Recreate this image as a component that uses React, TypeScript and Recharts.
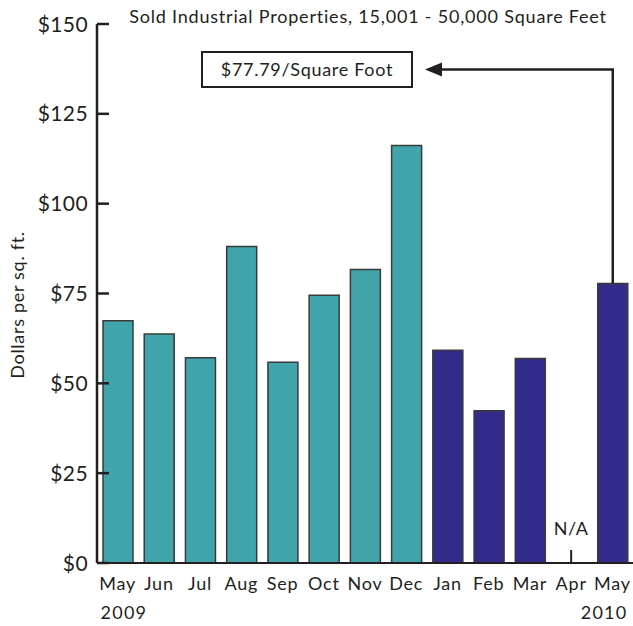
import React from "react";
import {
  BarChart,
  Bar,
  XAxis,
  YAxis,
  Cell,
  LabelList,
  Customized,
} from "recharts";

const months = ["May", "Jun", "Jul", "Aug", "Sep", "Oct", "Nov", "Dec", "Jan", "Feb", "Mar", "Apr", "May"];
const years = ["2009", "", "", "", "", "", "", "", "", "", "", "", "2010"];
const pricePerSqFt = [67.4, 63.7, 57.1, 88.1, 55.9, 74.5, 81.7, 116.2, 59.2, 42.4, 56.9, null, 77.79];
const notes = ["", "", "", "", "", "", "", "", "", "", "", "", "$77.79/Square Foot"];
const yTicks = [0, 25, 50, 75, 100, 125, 150];

const title = "Sold Industrial Properties, 15,001 - 50,000 Square Feet";
const yLabel = "Dollars per sq. ft.";
const naLabel = "N/A";

const FONT = "Lato, 'Open Sans', sans-serif";
const INK = "#231f20";
const TEAL = "#40a4aa";
const NAVY = "#332b8a";

const data = months.map((m, i) => ({
  month: m,
  year: years[i],
  value: pricePerSqFt[i],
  note: notes[i],
}));

const YTick = (props: any) => {
  const { x, y, payload } = props;
  return (
    <g>
      <line x1={x + 9} x2={x + 21} y1={y} y2={y} stroke={INK} strokeWidth={2.5} />
      <text x={x} y={y} dy="0.36em" textAnchor="end" fontSize={21} letterSpacing={0.4} fill={INK} fontFamily={FONT}>
        {"$" + payload.value}
      </text>
    </g>
  );
};

const XTick = (props: any) => {
  const { x, y, payload } = props;
  const idx = payload.index;
  const row = data[idx];
  // first year label sits left-aligned under its bar, last one right-aligned
  const first = idx === 0;
  return (
    <g>
      <text x={x} y={y + 21} dy="0.36em" textAnchor="middle" fontSize={18} letterSpacing={0.8} fill={INK} fontFamily={FONT}>
        {payload.value}
      </text>
      {row && row.year ? (
        <text
          x={first ? x - 17 : x + 15}
          y={y + 50}
          dy="0.36em"
          textAnchor={first ? "start" : "end"}
          fontSize={18}
          letterSpacing={1.2}
          fill={INK}
          fontFamily={FONT}
        >
          {row.year}
        </text>
      ) : null}
      {row && row.value == null ? (
        <g>
          <line x1={x} x2={x} y1={y - 13} y2={y} stroke={INK} strokeWidth={2} />
          <text x={x} y={y - 34} dy="0.36em" textAnchor="middle" fontSize={18} letterSpacing={0.6} fill={INK} fontFamily={FONT}>
            {naLabel}
          </text>
        </g>
      ) : null}
    </g>
  );
};

// callout box + arrow drawn from the top of the annotated bar
const CalloutLabel = (props: any) => {
  const { x, y, width, value } = props;
  if (!value || y == null) return null;
  const cx = x + width / 2;
  const boxX = 202;
  const boxY = 52;
  const boxW = 210;
  const boxH = 35;
  const arrowY = boxY + boxH / 2;
  const tipX = boxX + boxW + 13;
  return (
    <g>
      <rect x={boxX} y={boxY} width={boxW} height={boxH} fill="#fff" stroke={INK} strokeWidth={2} />
      <text x={boxX + boxW / 2} y={arrowY} dy="0.36em" textAnchor="middle" fontSize={18} letterSpacing={0.7} fill={INK} fontFamily={FONT}>
        {value}
      </text>
      <polyline points={`${cx},${y} ${cx},${arrowY} ${tipX + 14},${arrowY}`} fill="none" stroke={INK} strokeWidth={2.5} />
      <polygon points={`${tipX},${arrowY} ${tipX + 17},${arrowY - 7} ${tipX + 17},${arrowY + 7}`} fill={INK} />
    </g>
  );
};

const Decor = () => (
  <g>
    <text x={368} y={17} dy="0.36em" textAnchor="middle" fontSize={18} letterSpacing={0.8} fill={INK} fontFamily={FONT}>
      {title}
    </text>
    <text
      x={18}
      y={305}
      dy="0.36em"
      textAnchor="middle"
      fontSize={18}
      letterSpacing={0.7}
      fill={INK}
      fontFamily={FONT}
      transform="rotate(-90 18 305)"
    >
      {yLabel}
    </text>
  </g>
);

export default function App() {
  return (
    <div style={{ position: "absolute", left: 0, top: 0, background: "#fff" }}>
      <BarChart
        width={633}
        height={626}
        data={data}
        margin={{ top: 24, right: 0, left: 0, bottom: 0 }}
        barSize={30}
      >
        <YAxis
          type="number"
          domain={[0, 150]}
          ticks={yTicks}
          width={97}
          tickSize={0}
          tickMargin={9}
          tickLine={false}
          axisLine={{ stroke: INK, strokeWidth: 2.5 }}
          tick={<YTick />}
          interval={0}
        />
        <XAxis
          dataKey="month"
          tickSize={0}
          tickMargin={0}
          tickLine={false}
          axisLine={{ stroke: INK, strokeWidth: 2 }}
          tick={<XTick />}
          interval={0}
          height={63}
        />
        <Bar dataKey="value" stroke="#3a3a3a" strokeWidth={1.5} isAnimationActive={false}>
          {data.map((d, i) => (
            <Cell key={i} fill={i < 8 ? TEAL : NAVY} />
          ))}
          <LabelList dataKey="note" content={<CalloutLabel />} />
        </Bar>
        <Customized component={Decor} />
      </BarChart>
    </div>
  );
}
